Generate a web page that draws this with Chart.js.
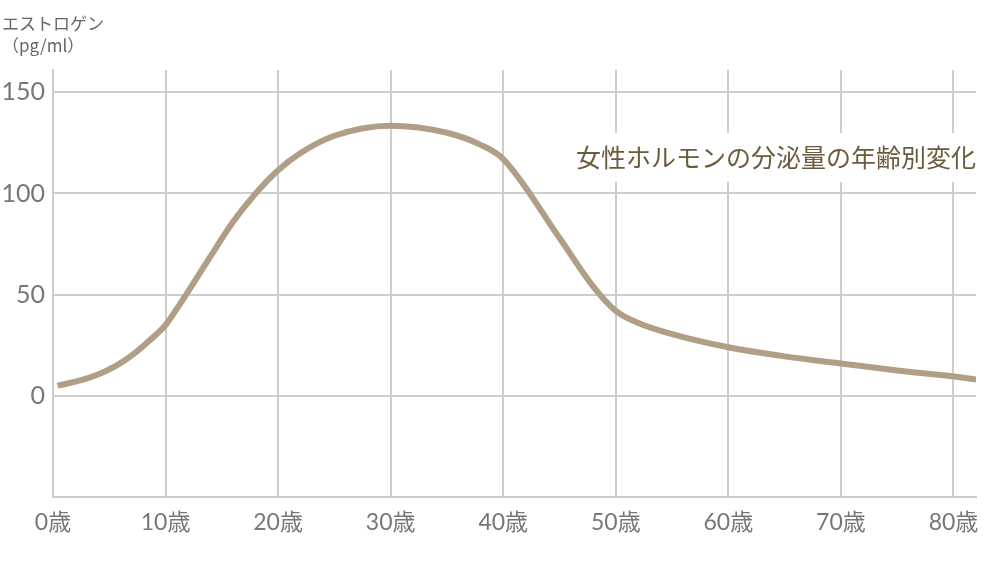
<!DOCTYPE html>
<html lang="ja">
<head>
<meta charset="utf-8">
<title>エストロゲン</title>
<script src="https://cdn.jsdelivr.net/npm/chart.js@4.4.1/dist/chart.umd.min.js"></script>
<style>
  html, body { margin: 0; padding: 0; background: #fff; }
  canvas { display: block; }
</style>
</head>
<body>
<canvas id="grafico" width="987" height="566"></canvas>
<script>
// datos
const edades = [0.4, 2.5, 4, 5.5, 7, 8.5, 10, 11, 12, 14, 16, 18, 20, 22, 25, 30, 35, 38, 40, 45, 48, 50, 52, 55, 60, 65, 70, 75, 80, 82];
const estrogeno = [5, 7.7, 10.5, 14.5, 20, 27, 35, 43, 51.5, 69, 86, 100, 111.5, 120, 128.5, 133.5, 130, 124, 117, 78, 54, 42, 36, 30.5, 24, 19.5, 16, 12.5, 9.5, 8];
const ticksEdad = [0, 10, 20, 30, 40, 50, 60, 70, 80];
const ticksValor = [0, 50, 100, 150];
const tituloEje = ['エストロゲン', '（pg/ml）'];
const tituloGrafico = '女性ホルモンの分泌量の年齢別変化';

const gris = '#cdcdcd';
const fuenteTicks = "Lato, 'Noto Sans CJK JP', sans-serif";

// textos extra: título del eje y título del gráfico con fondo blanco
const textos = {
  id: 'textos',
  afterDraw(chart) {
    const ctx = chart.ctx;
    ctx.save();
    ctx.fillStyle = '#666';
    ctx.font = "17px 'Noto Sans CJK JP', sans-serif";
    ctx.textBaseline = 'middle';
    ctx.textAlign = 'left';
    ctx.fillText(tituloEje[0], 2, 24);
    ctx.fillText(tituloEje[1], 2, 46);

    ctx.fillStyle = '#fff';
    ctx.fillRect(556, 133, 431, 49);
    ctx.fillStyle = '#6b5b3e';
    ctx.font = "25px 'Noto Sans CJK JP', sans-serif";
    ctx.textAlign = 'right';
    ctx.fillText(tituloGrafico, 976, 157);
    ctx.restore();
  }
};

new Chart(document.getElementById('grafico'), {
  type: 'line',
  data: {
    datasets: [{
      data: edades.map((e, i) => ({ x: e, y: estrogeno[i] })),
      borderColor: '#b19e86',
      borderWidth: 6,
      pointRadius: 0,
      cubicInterpolationMode: 'monotone',
      fill: false
    }]
  },
  options: {
    responsive: false,
    animation: false,
    layout: { padding: { top: 70, right: 11, left: 0, bottom: 0 } },
    plugins: {
      legend: { display: false },
      tooltip: { enabled: false }
    },
    scales: {
      x: {
        type: 'linear',
        min: 0,
        max: 82,
        afterBuildTicks: (s) => { s.ticks = ticksEdad.map(v => ({ value: v })); },
        afterFit: (s) => { s.height = 69; s.paddingRight = 0; s.paddingLeft = 0; },
        grid: { color: gris, lineWidth: 2, drawTicks: false },
        border: { color: gris, width: 2 },
        ticks: {
          padding: 12,
          color: '#777',
          font: { family: fuenteTicks, size: 23 },
          callback: (v) => v + '歳'
        }
      },
      y: {
        min: -50,
        max: 161,
        afterBuildTicks: (s) => { s.ticks = ticksValor.map(v => ({ value: v })); },
        afterFit: (s) => { s.width = 53; },
        grid: { color: gris, lineWidth: 2, drawTicks: false },
        border: { color: gris, width: 2 },
        ticks: {
          padding: 8,
          color: '#777',
          font: { family: fuenteTicks, size: 25 }
        }
      }
    }
  },
  plugins: [textos]
});
</script>
</body>
</html>
